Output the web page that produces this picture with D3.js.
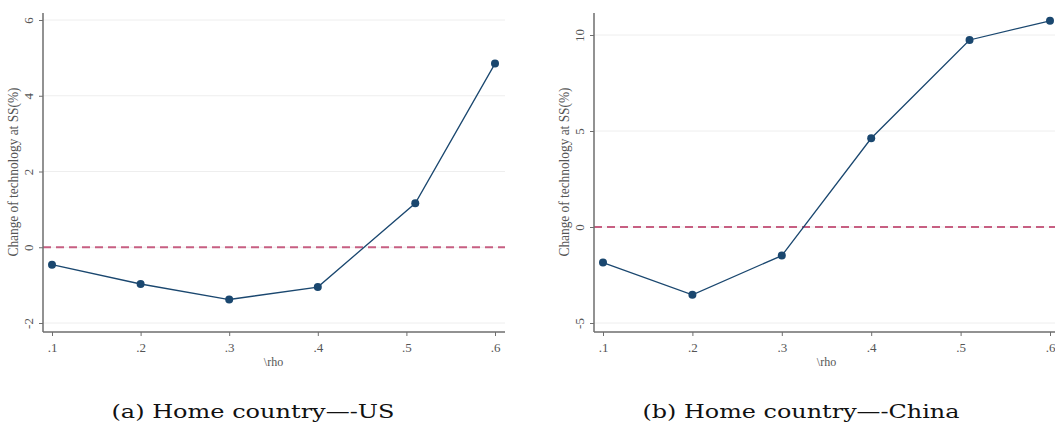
<!DOCTYPE html>
<html>
<head>
<meta charset="utf-8">
<script src="https://cdn.jsdelivr.net/npm/d3@7"></script>
<style>
  body { margin: 0; background: #fff; }
  svg { display: block; font-family: "Liberation Serif", "DejaVu Serif", serif; }
</style>
</head>
<body>
<div id="chart"></div>
<script>
// rho grid used by both runs (the 5th point sits a bit past .5)
var rho_values   = [0.1, 0.2, 0.3, 0.4, 0.51, 0.6];
var us_change    = [-0.46, -0.97, -1.38, -1.05, 1.16, 4.85];
var china_change = [-1.85, -3.53, -1.49, 4.62, 9.74, 10.74];
var x_ticks      = [0.1, 0.2, 0.3, 0.4, 0.5, 0.6];
var us_y_ticks   = [-2, 0, 2, 4, 6];
var china_y_ticks = [-5, 0, 5, 10];
var captions     = ["(a) Home country\u2014-US", "(b) Home country\u2014-China"];

var width_chart  = 1055;
var height_chart = 429;
var navy_color   = "#1a476f";
var dash_color   = "#c75f82";
var axis_color   = "#6e6e6e";
var label_color  = "#555";

var svg_chart = d3.select("#chart").append("svg")
  .attr("width", width_chart)
  .attr("height", height_chart);

function draw_panel (opts) {
  var x = d3.scaleLinear().domain([0.1, 0.6]).range([opts.x0, opts.x1]);
  var y = d3.scaleLinear().domain(opts.y_domain).range(opts.y_range);
  var g = svg_chart.append("g");

  // faint horizontal grid
  g.selectAll("line.grid")
    .data(opts.y_ticks)
    .enter().append("line")
    .attr("class", "grid")
    .attr("x1", opts.axis_x).attr("x2", opts.right)
    .attr("y1", function (d) { return y(d); })
    .attr("y2", function (d) { return y(d); })
    .style("stroke", "#eeeeee")
    .style("stroke-width", 1);

  // zero reference
  g.append("line")
    .attr("x1", opts.axis_x).attr("x2", opts.right)
    .attr("y1", y(0)).attr("y2", y(0))
    .style("stroke", dash_color)
    .style("stroke-width", 2)
    .style("stroke-dasharray", "8,5");

  var line = d3.line()
    .x(function (d, i) { return x(rho_values[i]); })
    .y(function (d) { return y(d); });

  g.append("path")
    .datum(opts.values)
    .attr("d", line)
    .style("fill", "none")
    .style("stroke", navy_color)
    .style("stroke-width", 1.3);

  g.selectAll("circle")
    .data(opts.values)
    .enter().append("circle")
    .attr("cx", function (d, i) { return x(rho_values[i]); })
    .attr("cy", function (d) { return y(d); })
    .attr("r", 4)
    .style("fill", navy_color);

  // x axis
  var x_axis = d3.axisBottom(x).tickValues(x_ticks).tickSize(4)
    .tickFormat(function (d) { return d3.format(".1f")(d).replace(/^0/, ""); });
  var gx = g.append("g")
    .attr("transform", "translate(0," + opts.axis_y + ")")
    .call(x_axis);
  gx.select(".domain").remove();
  gx.append("line")
    .attr("x1", opts.axis_x).attr("x2", opts.right)
    .style("stroke", axis_color).style("stroke-width", 1.5);
  gx.selectAll(".tick line").style("stroke", axis_color);
  gx.selectAll(".tick text")
    .attr("y", 11)
    .style("font-family", "Liberation Serif, serif")
    .style("font-size", "13px")
    .style("fill", label_color);

  // y axis, labels turned like Stata does
  var y_axis = d3.axisLeft(y).tickValues(opts.y_ticks).tickSize(4)
    .tickFormat(function (d) { return d; });
  var gy = g.append("g")
    .attr("transform", "translate(" + opts.axis_x + ",0)")
    .call(y_axis);
  gy.select(".domain").remove();
  gy.append("line")
    .attr("y1", opts.top).attr("y2", opts.axis_y)
    .style("stroke", axis_color).style("stroke-width", 1.5);
  gy.selectAll(".tick line").style("stroke", axis_color);
  gy.selectAll(".tick text")
    .attr("x", null).attr("dy", null)
    .attr("transform", "translate(-13,0) rotate(-90)")
    .attr("text-anchor", "middle")
    .attr("dominant-baseline", "middle")
    .style("font-family", "Liberation Serif, serif")
    .style("font-size", "13px")
    .style("fill", label_color);

  g.append("text")
    .attr("transform", "translate(" + (opts.axis_x - 28) + "," + 172 + ") rotate(-90)")
    .attr("text-anchor", "middle")
    .attr("dominant-baseline", "middle")
    .attr("textLength", 169)
    .attr("lengthAdjust", "spacingAndGlyphs")
    .style("font-size", "15px")
    .style("fill", label_color)
    .text("Change of technology at SS(%)");

  g.append("text")
    .attr("x", x(0.35)).attr("y", 366)
    .attr("text-anchor", "middle")
    .style("font-size", "12px")
    .style("fill", label_color)
    .text("\\rho");

  g.append("text")
    .attr("x", opts.caption_x).attr("y", 418)
    .attr("text-anchor", "middle")
    .attr("textLength", opts.caption_w)
    .attr("lengthAdjust", "spacingAndGlyphs")
    .style("font-family", "DejaVu Serif, serif")
    .style("font-size", "19px")
    .style("fill", "#111")
    .text(opts.caption);
}

draw_panel({
  values: us_change, y_ticks: us_y_ticks,
  y_domain: [-2, 6], y_range: [323, 20],
  x0: 52, x1: 495, axis_x: 43, axis_y: 332, top: 13, right: 505,
  caption: captions[0], caption_x: 253, caption_w: 283
});

draw_panel({
  values: china_change, y_ticks: china_y_ticks,
  y_domain: [-5, 10], y_range: [323, 35],
  x0: 603, x1: 1050, axis_x: 594, axis_y: 332, top: 13, right: 1070,
  caption: captions[1], caption_x: 801, caption_w: 317
});
</script>
</body>
</html>
